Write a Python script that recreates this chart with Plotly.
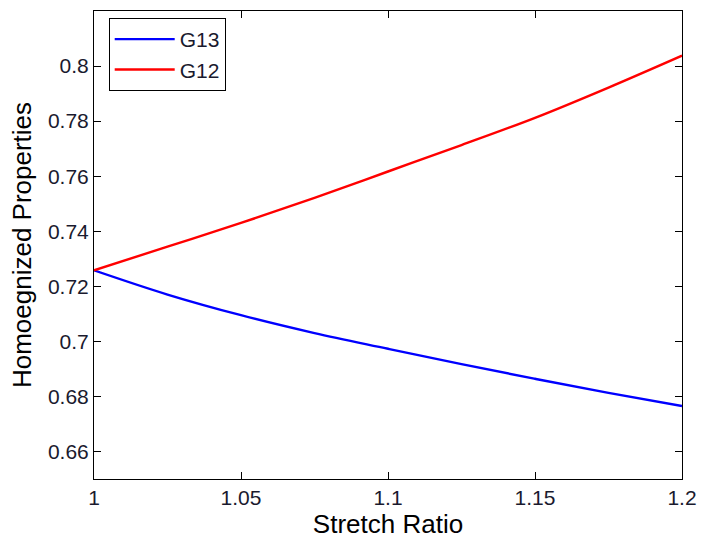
import plotly.graph_objects as go

stretch = [1.0, 1.025, 1.05, 1.075, 1.1, 1.125, 1.15, 1.175, 1.2]
g13 = [0.7258, 0.7170, 0.7095, 0.7030, 0.6973, 0.6917, 0.6864, 0.6813, 0.6765]
g12 = [0.7258, 0.7344, 0.7430, 0.7521, 0.7617, 0.7713, 0.7812, 0.7922, 0.8038]

x_ticks = [1, 1.05, 1.1, 1.15, 1.2]
x_ticktext = ["1", "1.05", "1.1", "1.15", "1.2"]
y_ticks = [0.66, 0.68, 0.70, 0.72, 0.74, 0.76, 0.78, 0.80]
y_ticktext = ["0.66", "0.68", "0.7", "0.72", "0.74", "0.76", "0.78", "0.8"]

FONT = "Liberation Sans, Arial, sans-serif"

fig = go.Figure()
fig.add_trace(go.Scatter(x=stretch, y=g13, mode="lines", name="G13",
                         line=dict(color="#0000ff", width=2.4, shape="spline")))
fig.add_trace(go.Scatter(x=stretch, y=g12, mode="lines", name="G12",
                         line=dict(color="#ff0000", width=2.4, shape="spline")))

axis_common = dict(
    showline=True, linecolor="black", linewidth=1, mirror="ticks",
    ticks="inside", ticklen=7, tickwidth=1, tickcolor="black",
    showgrid=False, zeroline=False,
    tickfont=dict(family=FONT, size=21, color="#1a1a2e"),
)

fig.update_layout(
    width=707, height=544,
    margin=dict(l=94, r=18, t=10, b=65),
    paper_bgcolor="white", plot_bgcolor="white",
    font=dict(family=FONT, color="black"),
    showlegend=True,
    legend=dict(
        x=0.025, y=0.985, xanchor="left", yanchor="top",
        bordercolor="black", borderwidth=1, bgcolor="white",
        font=dict(family=FONT, size=21, color="#1a1a2e"),
        tracegroupgap=0, itemwidth=60,
    ),
    xaxis=dict(
        range=[1, 1.2], tickvals=x_ticks, ticktext=x_ticktext,
        title=dict(text="Stretch Ratio", font=dict(family=FONT, size=26, color="black"), standoff=4),
        **axis_common,
    ),
    yaxis=dict(
        range=[0.65, 0.82], tickvals=y_ticks, ticktext=y_ticktext,
        title=dict(text="Homoegnized Properties", font=dict(family=FONT, size=26, color="black"), standoff=8),
        **axis_common,
    ),
)

fig.write_html("out.html")
